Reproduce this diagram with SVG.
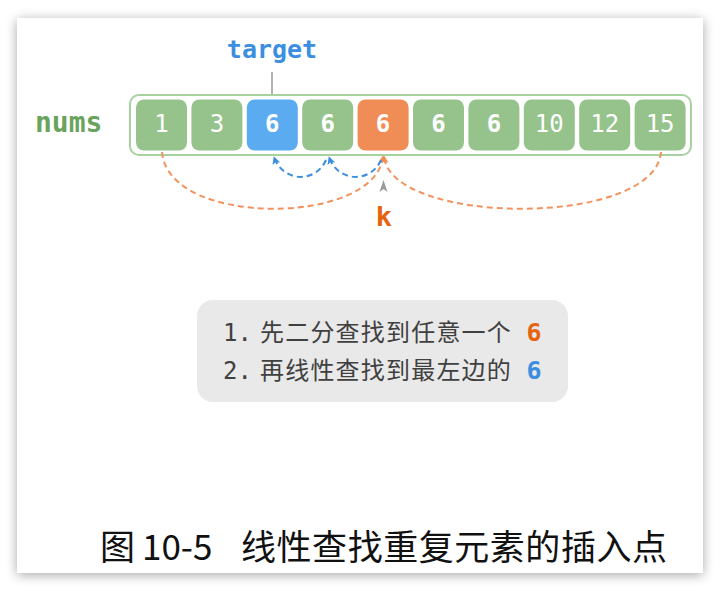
<svg xmlns="http://www.w3.org/2000/svg" width="720" height="591" viewBox="0 0 720 591">
<defs>
<filter id="sh" x="-10%" y="-10%" width="120%" height="120%">
<feGaussianBlur in="SourceAlpha" stdDeviation="6"/>
<feOffset dx="0" dy="2"/>
<feComponentTransfer><feFuncA type="linear" slope="0.35"/></feComponentTransfer>
<feMerge><feMergeNode/><feMergeNode in="SourceGraphic"/></feMerge>
</filter>
<marker id="ao" viewBox="0 0 10 10" refX="9" refY="5" markerWidth="4" markerHeight="4" orient="auto" markerUnits="strokeWidth">
<path d="M0,0 L10,5 L0,10 L2.5,5 Z" fill="#f08c55"/>
</marker>
<marker id="ab" viewBox="0 0 10 10" refX="9" refY="5" markerWidth="4" markerHeight="4" orient="auto" markerUnits="strokeWidth">
<path d="M0,0 L10,5 L0,10 L2.5,5 Z" fill="#3b8ee0"/>
</marker>
</defs>
<style>
.cell{stroke:none}
.g{fill:#95c38b}
.b{fill:#5aabf0}
.o{fill:#f08c55}
.num{font-family:"DejaVu Sans Mono","Liberation Mono",monospace;font-size:24px;fill:#ffffff;text-anchor:middle}
.bold{font-weight:bold}
.lbl{font-family:"DejaVu Sans Mono","Liberation Mono",monospace;font-weight:bold}
.cn{font-family:"DejaVu Sans Mono","Noto Sans CJK SC",sans-serif;font-size:24px;fill:#404040}
.arc{fill:none;stroke-width:2;stroke-dasharray:6 4}
</style>
<rect x="0" y="0" width="720" height="591" fill="#ffffff"/>
<rect x="17" y="18" width="686" height="555" fill="#ffffff" filter="url(#sh)"/>

<g id="nums-label"><text class="lbl" x="35" y="132" font-size="28" fill="#6aa35d">nums</text></g>
<g id="target-label">
<text class="lbl" x="272" y="58" font-size="25" fill="#3b8ee0" text-anchor="middle">target</text>
<line x1="272" y1="72" x2="272" y2="100" stroke="#999999" stroke-width="1.5"/>
</g>

<g id="array">
<rect x="130" y="95" width="561" height="60" rx="9" fill="#ffffff" stroke="#a8d1a0" stroke-width="2"/>
</g>
<g id="cell0"><rect class="cell g" x="136" y="99.5" width="51" height="51" rx="8"/><text class="num" x="161.5" y="132">1</text></g>
<g id="cell1"><rect class="cell g" x="191.4" y="99.5" width="51" height="51" rx="8"/><text class="num" x="216.9" y="132">3</text></g>
<g id="cell2"><rect class="cell b" x="246.8" y="99.5" width="51" height="51" rx="8"/><text class="num bold" x="272.3" y="132">6</text></g>
<g id="cell3"><rect class="cell g" x="302.2" y="99.5" width="51" height="51" rx="8"/><text class="num bold" x="327.7" y="132">6</text></g>
<g id="cell4"><rect class="cell o" x="357.6" y="99.5" width="51" height="51" rx="8"/><text class="num bold" x="383.1" y="132">6</text></g>
<g id="cell5"><rect class="cell g" x="413" y="99.5" width="51" height="51" rx="8"/><text class="num bold" x="438.5" y="132">6</text></g>
<g id="cell6"><rect class="cell g" x="468.4" y="99.5" width="51" height="51" rx="8"/><text class="num bold" x="493.9" y="132">6</text></g>
<g id="cell7"><rect class="cell g" x="523.8" y="99.5" width="51" height="51" rx="8"/><text class="num" x="549.3" y="132">10</text></g>
<g id="cell8"><rect class="cell g" x="579.2" y="99.5" width="51" height="51" rx="8"/><text class="num" x="604.7" y="132">12</text></g>
<g id="cell9"><rect class="cell g" x="634.6" y="99.5" width="51" height="51" rx="8"/><text class="num" x="660.1" y="132">15</text></g>

<g id="connectors">
<path class="arc" stroke="#f2935d" d="M162,152 C168,228 377,226 383,156" marker-end="url(#ao)"/>
<path class="arc" stroke="#f2935d" d="M661,152 C655,228 390,226 384,156" marker-end="url(#ao)"/>
<path class="arc" stroke="#3b8ee0" d="M381,160 C371,183 338,183 329,157" marker-end="url(#ab)"/>
<path class="arc" stroke="#3b8ee0" d="M326,160 C316,183 283,183 274,157" marker-end="url(#ab)"/>
</g>

<g id="k-pointer">
<path d="M383.5,180 L387.5,192 L383.5,189 L379.5,192 Z" fill="#9a9a9a"/>
<text class="lbl" x="384" y="226" font-size="27" fill="#e5640f" text-anchor="middle">k</text>
</g>

<g id="note">
<rect x="197" y="300" width="371" height="102" rx="16" fill="#e9e9e9"/>
<text class="cn" x="223" y="341">1.</text>
<text class="cn" x="260" y="341" letter-spacing="1.2">先二分查找到任意一个</text>
<text class="lbl" x="534" y="341" font-size="25" fill="#e5640f" text-anchor="middle">6</text>
<text class="cn" x="223" y="379">2.</text>
<text class="cn" x="260" y="379" letter-spacing="1.2">再线性查找到最左边的</text>
<text class="lbl" x="534" y="379" font-size="25" fill="#3b8ee0" text-anchor="middle">6</text>
</g>

<g id="caption" font-family="'Noto Sans CJK SC',sans-serif" font-size="35" fill="#111111">
<text x="100" y="560">图</text>
<text x="142" y="560">10-5</text>
<text x="241" y="560" textLength="426" lengthAdjust="spacing">线性查找重复元素的插入点</text>
</g>
</svg>
